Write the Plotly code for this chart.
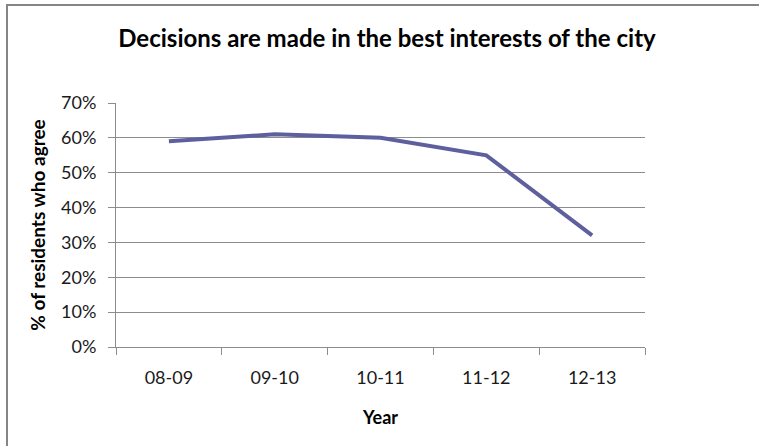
import plotly.graph_objects as go

years = ["08-09", "09-10", "10-11", "11-12", "12-13"]
agree_pct = [0.59, 0.61, 0.60, 0.55, 0.32]

W, H = 759, 446
L, R, T, B = 116, 645, 103, 347  # plot area in pixels

def px_x(p):
    return (p - L) / (R - L)

def px_y(p):
    return (B - p) / (B - T)

grid = "#8c8c8c"
font_family = "Lato, 'Open Sans', sans-serif"

fig = go.Figure(
    go.Scatter(
        x=years,
        y=agree_pct,
        mode="lines",
        line=dict(color="#5e5f9f", width=4),
        hoverinfo="x+y",
    )
)

fig.update_layout(
    width=W,
    height=H,
    margin=dict(l=L, r=W - R, t=T, b=H - B),
    paper_bgcolor="white",
    plot_bgcolor="white",
    showlegend=False,
    font=dict(family=font_family, color="#1a1a1a", size=18),
    title=dict(
        text="<b>Decisions are made in the best interests of the city</b>",
        x=387 / W,
        xanchor="center",
        y=1 - 39 / H,
        yanchor="middle",
        font=dict(size=24, color="black", family=font_family),
    ),
    shapes=[
        dict(
            type="rect",
            xref="paper",
            yref="paper",
            x0=px_x(7),
            x1=px_x(790),
            y0=px_y(480),
            y1=px_y(5),
            line=dict(color="#858585", width=2),
            fillcolor="rgba(0,0,0,0)",
            layer="below",
        )
    ],
)

fig.update_xaxes(
    type="category",
    showgrid=False,
    showline=True,
    linecolor=grid,
    linewidth=1,
    ticks="outside",
    tickson="boundaries",
    ticklen=7,
    tickcolor=grid,
    ticklabelstandoff=14,
    tickfont=dict(size=18, color="#1a1a1a"),
    title=dict(text="<b>Year</b>", font=dict(size=18, color="black"), standoff=24),
    range=[-0.5, 4.5],
)

fig.update_yaxes(
    range=[0, 0.70],
    dtick=0.10,
    tickformat=".0%",
    showgrid=True,
    gridcolor=grid,
    gridwidth=1,
    showline=True,
    linecolor=grid,
    linewidth=1,
    ticks="outside",
    ticklen=7,
    tickcolor=grid,
    ticklabelstandoff=8,
    zeroline=False,
    tickfont=dict(size=18, color="#1a1a1a"),
    title=dict(text="<b>% of residents who agree</b>", font=dict(size=19, color="black"), standoff=10),
)

fig.write_html("out.html")
